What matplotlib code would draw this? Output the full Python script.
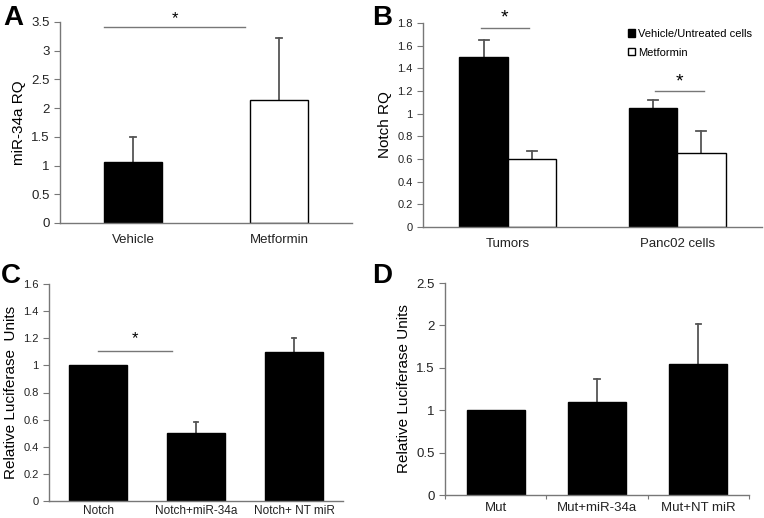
import numpy as np
import matplotlib
matplotlib.use("Agg")
import matplotlib.pyplot as plt
from matplotlib.patches import Patch

plt.rcParams['font.family'] = ['Liberation Sans', 'DejaVu Sans']

# Panel A
a_labels = ["Vehicle", "Metformin"]
a_vals = [1.07, 2.15]
a_err = [0.43, 1.07]

# Panel B
b_groups = ["Tumors", "Panc02 cells"]
b_vehicle = [1.50, 1.05]
b_vehicle_err = [0.15, 0.07]
b_metformin = [0.60, 0.65]
b_metformin_err = [0.07, 0.20]

# Panel C
c_labels = ["Notch", "Notch+miR-34a", "Notch+ NT miR"]
c_vals = [1.0, 0.5, 1.1]
c_err = [0.0, 0.08, 0.10]

# Panel D
d_labels = ["Mut", "Mut+miR-34a", "Mut+NT miR"]
d_vals = [1.0, 1.1, 1.55]
d_err = [0.0, 0.27, 0.47]

W, H = 764, 518
fig = plt.figure(figsize=(W / 100, H / 100), dpi=100)
grey = "#777777"


def make_ax(x0, x1, ytop, ybot):
    ax = fig.add_axes([x0 / W, 1 - ybot / H, (x1 - x0) / W, (ybot - ytop) / H])
    for s in ["top", "right"]:
        ax.spines[s].set_visible(False)
    for s in ["left", "bottom"]:
        ax.spines[s].set_color(grey)
        ax.spines[s].set_linewidth(1.0)
    ax.tick_params(axis="y", colors=grey, labelcolor="#222222", labelsize=9.5,
                   length=4, width=0.8)
    ax.tick_params(axis="x", length=0, labelsize=9.5, labelcolor="#222222", pad=8)
    return ax


def fmt(v):
    return "0" if v == 0 else ("%g" % v)


def up_err(ax, x, vals, err, cap=0.04):
    # upper-only error bars with a cap
    for xi, v, e in zip(x, vals, err):
        if e <= 0:
            continue
        ax.plot([xi, xi], [v, v + e], color="#555555", lw=1.3, zorder=1)
        ax.plot([xi - cap, xi + cap], [v + e, v + e], color="#555555", lw=1.3, zorder=1)


# ---- A
ax = make_ax(60, 352, 22, 223)
x = np.arange(len(a_labels))
up_err(ax, x, a_vals, a_err, cap=0.02)
ax.bar(x, a_vals, width=0.4, color=["black", "white"], edgecolor="black", linewidth=1, zorder=2)
ax.set_xlim(-0.5, 1.5)
ax.set_ylim(0, 3.5)
yt = np.arange(0, 3.51, 0.5)
ax.set_yticks(yt)
ax.set_yticklabels([fmt(v) for v in yt])
ax.set_xticks(x)
ax.set_xticklabels(a_labels)
ax.set_ylabel("miR-34a RQ", fontsize=11)
ax.plot([-0.2, 0.77], [3.41, 3.41], color=grey, lw=1, clip_on=False)
ax.text(0.285, 3.43, "*", ha="center", va="bottom", fontsize=12)

# ---- B
ax = make_ax(423, 762, 23, 227)
x = np.arange(len(b_groups))
bw = 0.285
up_err(ax, x - bw / 2, b_vehicle, b_vehicle_err, cap=0.03)
up_err(ax, x + bw / 2, b_metformin, b_metformin_err, cap=0.03)
ax.bar(x - bw / 2, b_vehicle, width=bw, color="black", edgecolor="black", linewidth=1, zorder=2)
ax.bar(x + bw / 2, b_metformin, width=bw, color="white", edgecolor="black", linewidth=1, zorder=2)
ax.set_xlim(-0.5, 1.5)
ax.set_ylim(0, 1.8)
yt = np.round(np.arange(0, 1.81, 0.2), 1)
ax.set_yticks(yt)
ax.set_yticklabels([fmt(v) for v in yt], fontsize=8)
ax.set_xticks(x)
ax.set_xticklabels(b_groups)
ax.set_ylabel("Notch RQ", fontsize=11)
ax.plot([-0.16, 0.125], [1.76, 1.76], color=grey, lw=1, clip_on=False)
ax.text(-0.02, 1.765, "*", ha="center", va="bottom", fontsize=14)
ax.plot([0.87, 1.16], [1.2, 1.2], color=grey, lw=1)
ax.text(1.015, 1.205, "*", ha="center", va="bottom", fontsize=14)
handles = [Patch(facecolor="black", edgecolor="black"),
           Patch(facecolor="white", edgecolor="black")]
ax.legend(handles, ["Vehicle/Untreated cells", "Metformin"], loc="upper right",
          bbox_to_anchor=(1.0, 1.02), frameon=False, fontsize=8,
          handlelength=0.6, handleheight=0.6, handletextpad=0.3, labelspacing=0.8)

# ---- C
ax = make_ax(49, 343, 284, 501)
x = np.arange(len(c_labels))
up_err(ax, x, c_vals, c_err, cap=0.025)
ax.bar(x, c_vals, width=0.59, color="black", edgecolor="black", linewidth=1, zorder=2)
ax.set_xlim(-0.5, 2.5)
ax.set_ylim(0, 1.6)
yt = np.round(np.arange(0, 1.61, 0.2), 1)
ax.set_yticks(yt)
ax.set_yticklabels([fmt(v) for v in yt], fontsize=8)
ax.set_xticks(x)
ax.set_xticklabels(c_labels, fontsize=8.5)
ax.tick_params(axis="x", pad=3)
ax.set_ylabel("Relative Luciferase  Units", fontsize=11)
ax.plot([0.0, 0.75], [1.108, 1.108], color=grey, lw=1)
ax.text(0.38, 1.14, "*", ha="center", va="bottom", fontsize=12)

# ---- D
ax = make_ax(445, 749, 283, 495)
x = np.arange(len(d_labels))
up_err(ax, x, d_vals, d_err, cap=0.025)
ax.bar(x, d_vals, width=0.57, color="black", edgecolor="black", linewidth=1, zorder=2)
ax.set_xlim(-0.5, 2.5)
ax.set_ylim(0, 2.5)
yt = np.arange(0, 2.51, 0.5)
ax.set_yticks(yt)
ax.set_yticklabels([fmt(v) for v in yt], fontsize=9.5)
ax.set_xticks(x)
ax.set_xticklabels(d_labels, fontsize=9.5)
ax.tick_params(axis="x", pad=5)
ax.set_xticks([-0.5, 0.5, 1.5, 2.5], minor=True)
ax.tick_params(axis="x", which="minor", length=3, color=grey, width=0.8)
ax.set_ylabel("Relative Luciferase Units", fontsize=11)

# panel letters
for lab, px, py in [("A", 3, 5), ("B", 372, 5), ("C", 1, 263), ("D", 372, 263)]:
    fig.text(px / W, 1 - py / H, lab, fontsize=20, fontweight="bold", va="top", ha="left")

fig.savefig("out.png", dpi=100)
